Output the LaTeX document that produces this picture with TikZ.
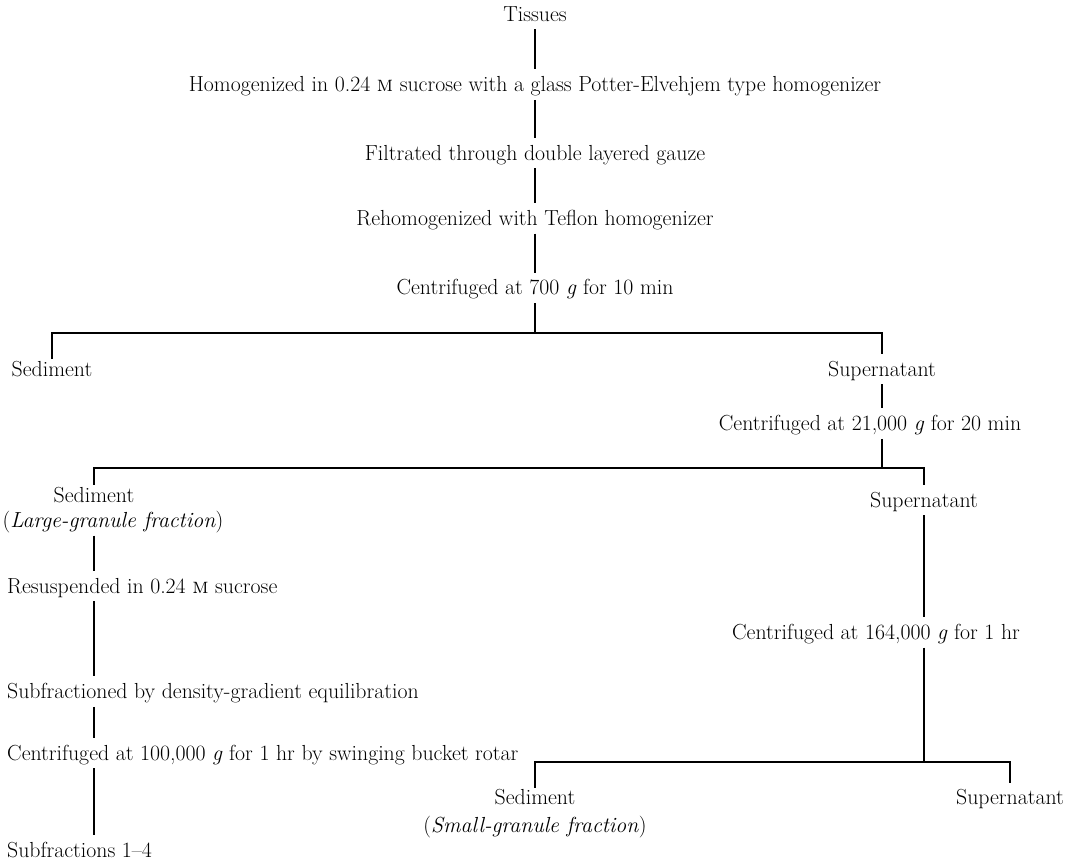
\documentclass[tikz,border=0pt]{standalone}
\usepackage{fontspec}
\usepackage{tikz}
\usetikzlibrary{positioning}
\tikzset{txt/.style={inner xsep=0pt, inner ysep=3pt, text height=13pt, text depth=4pt, font=\fontsize{21.8}{25}\selectfont}}
\tikzset{line/.style={draw, line width=2.2pt, shorten <=1pt, shorten >=6pt}}
\begin{document}
\begin{tikzpicture}
			\useasboundingbox (0,0) rectangle (1069pt,-863pt);
			\node [txt, anchor=north] (tis) at (535pt,-5pt) {Tissues};
			\node [txt, below=47pt of tis]  (hom)   {Homogenized in 0.24 \textsc{m} sucrose with a glass Potter-Elvehjem type homogenizer};
			\node [txt, below=45pt of hom]  (fil)   {Filtrated through double layered gauze};
			\node [txt, below=42pt of fil]  (reh)   {Rehomogenized with Teflon homogenizer};
			\node [txt, below=46pt of reh]  (c700)  {Centrifuged at 700 \textit{g} for 10 min};
			\coordinate [below=31pt of c700] (b1);
			\node [txt, below=27pt of b1, xshift=-483pt]  (sed1)  {Sediment};
			\node [txt, below=27pt of b1, xshift=347pt]   (sup1)  {Supernatant};
			\node [txt, below=31pt of sup1, xshift=-12pt] (c21)   {Centrifuged at 21,000 \textit{g} for 20 min};
			\coordinate [below=30pt of c21] (b2);
			\node [txt, below=18pt of b2, xshift=-776pt]  (sed2)  {Sediment};
			\node [txt, below=2pt of sed2, xshift=19pt]   (lg)    {(\textit{Large-granule fraction})};
			\node [txt, below=23pt of b2, xshift=54pt]    (sup2)  {Supernatant};
			% left column
			\node [txt, anchor=north west] (res) at (7pt,-577pt) {Resuspended in 0.24 \textsc{m} sucrose};
			\node [txt, below=82pt of res.south west, anchor=north west]  (sub)   {Subfractioned by density-gradient equilibration};
			\node [txt, below=38pt of sub.south west, anchor=north west]  (c100)  {Centrifuged at 100,000 \textit{g} for 1 hr by swinging bucket rotar};
			\node [txt, below=74pt of c100.south west, anchor=north west] (frac)  {Subfractions 1--4};
			% right column
			\node [txt, below=109pt of sup2, xshift=-48pt] (c164)  {Centrifuged at 164,000 \textit{g} for 1 hr};
			\coordinate [below=115pt of c164] (b3);
			\node [txt, below=27pt of b3, xshift=-341pt]  (sed3)  {Sediment};
			\node [txt, below=4pt of sed3]                (sg)    {(\textit{Small-granule fraction})};
			\node [txt, below=27pt of b3, xshift=134pt]   (sup3)  {Supernatant};
			%
			\path [line] (tis)  -- (hom);
			\path [line] (hom)  -- (fil);
			\path [line] (fil)  -- (reh);
			\path [line] (reh)  -- (c700);
			\path [line, shorten >=0pt] (c700) -- (b1);
			\path [line] (sed1.north) |- (b1) -| (sup1.north);
			\path [line] (sup1) -- (sup1 |- c21.north);
			\path [line, shorten >=0pt] (sup1 |- c21.south) -- (sup1 |- b2);
			\path [line] (sed2.north) |- (b2) -| (sup2.north);
			\path [line] (sed2 |- lg.south)   -- (sed2 |- res.north);
			\path [line] (sed2 |- res.south)  -- (sed2 |- sub.north);
			\path [line] (sed2 |- sub.south)  -- (sed2 |- c100.north);
			\path [line] (sed2 |- c100.south) -- (sed2 |- frac.north);
			\path [line] (sup2) -- (sup2 |- c164.north);
			\path [line, shorten >=0pt] (sup2 |- c164.south) -- (sup2 |- b3);
			\path [line] (sed3.north) |- (b3) -| (sup3.north);
\end{tikzpicture}
\end{document}
